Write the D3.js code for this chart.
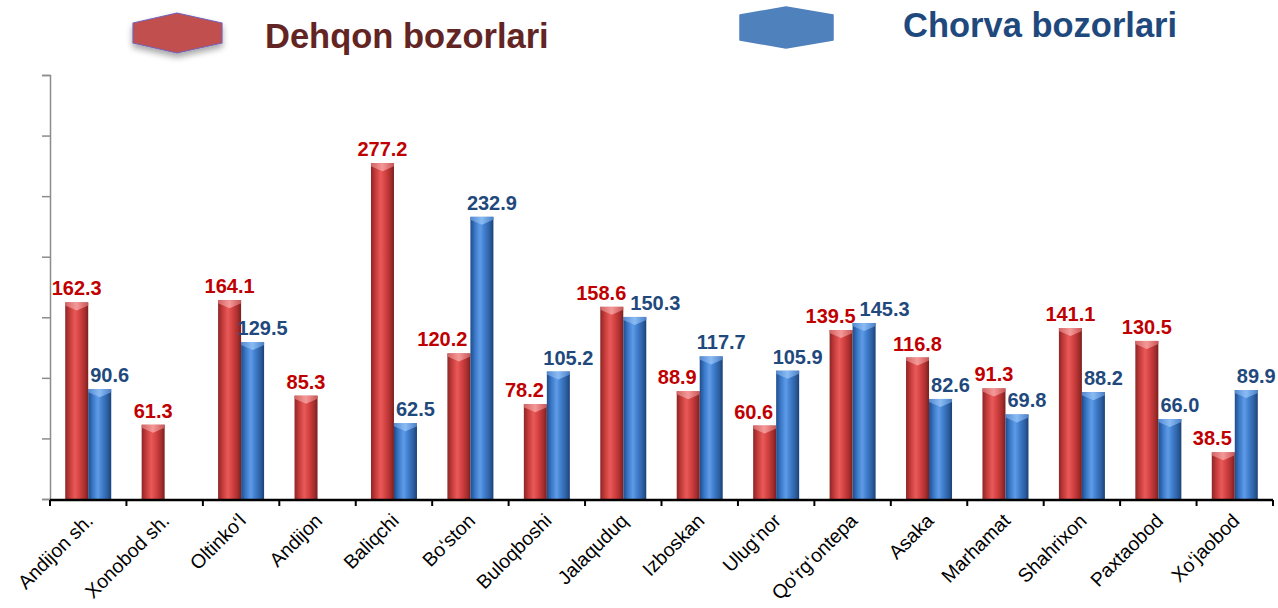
<!DOCTYPE html>
<html>
<head>
<meta charset="utf-8">
<script src="https://cdn.jsdelivr.net/npm/d3@7"></script>
<style>
  body { margin: 0; background: #fff; }
  svg { display: block; font-family: "Liberation Sans", Arial, sans-serif; }
</style>
</head>
<body>
<svg></svg>
<script>
// Data
var categories = ["Andijon sh.", "Xonobod sh.", "Oltinko\u2018l", "Andijon", "Baliqchi", "Bo\u2018ston",
  "Buloqboshi", "Jalaquduq", "Izboskan", "Ulug\u2018nor", "Qo\u2018rg\u2018ontepa", "Asaka",
  "Marhamat", "Shahrixon", "Paxtaobod", "Xo\u2018jaobod"];
var dehqon = [162.3, 61.3, 164.1, 85.3, 277.2, 120.2, 78.2, 158.6, 88.9, 60.6, 139.5, 116.8, 91.3, 141.1, 130.5, 38.5];
var chorva = [90.6, null, 129.5, null, 62.5, 232.9, 105.2, 150.3, 117.7, 105.9, 145.3, 82.6, 69.8, 88.2, 66.0, 89.9];
var seriesNames = ["Dehqon bozorlari", "Chorva bozorlari"];
var yTicks = [0, 50, 100, 150, 200, 250, 300, 350];

let width = 1278;
let height = 608;
let svg = d3.select("svg").attr("width", width).attr("height", height);

let x = d3.scaleBand().domain(categories).range([50, 1273]);
let inner = d3.scaleBand().domain(["d", "c"]).range([0, 46]);
let y = d3.scaleLinear().domain([0, 350]).range([499, 75]);
let off = (x.bandwidth() - 46) / 2;

// gradients for the glossy cylinders
let defs = svg.append("defs");
function grad(id, stops) {
  let g = defs.append("linearGradient").attr("id", id).attr("x1", 0).attr("x2", 1).attr("y1", 0).attr("y2", 0);
  stops.forEach(s => g.append("stop").attr("offset", s[0]).attr("stop-color", s[1]));
}
grad("gRed", [[0, "#8c2626"], [0.2, "#c73b3b"], [0.42, "#e85a5a"], [0.6, "#d84444"], [0.85, "#a82e2e"], [1, "#7a1f1f"]]);
grad("gBlue", [[0, "#1f4c88"], [0.2, "#3a78c8"], [0.42, "#5f9be6"], [0.6, "#417fcf"], [0.85, "#2c5e9f"], [1, "#1b4177"]]);
grad("gRedTop", [[0, "#d86a6a"], [0.5, "#f6a0a0"], [1, "#d05a5a"]]);
grad("gBlueTop", [[0, "#5a8fd6"], [0.5, "#8fc0f6"], [1, "#4f86cf"]]);
let sh = defs.append("filter").attr("id", "shadow").attr("x", "-20%").attr("y", "-20%").attr("width", "140%").attr("height", "160%");
sh.append("feDropShadow").attr("dx", 0).attr("dy", 4).attr("stdDeviation", 3).attr("flood-color", "#000").attr("flood-opacity", 0.35);

// legend
svg.append("path")
  .attr("d", "M133,23 L177,13 L222,23 L222,43 L177,53 L133,43 Z")
  .attr("fill", "#c0504d").attr("stroke", "#7463b5").attr("stroke-width", 1.2)
  .attr("stroke-linejoin", "round").attr("filter", "url(#shadow)");
svg.append("text").attr("x", 265).attr("y", 48).text(seriesNames[0])
  .attr("font-size", 34.5).attr("font-weight", "bold").attr("fill", "#632523");
svg.append("path")
  .attr("d", "M740,15 L786,7 L833,15 L833,40 L786,48 L740,40 Z")
  .attr("fill", "#4f81bd").attr("stroke", "#4f81bd").attr("stroke-width", 1.5)
  .attr("stroke-linejoin", "round");
svg.append("text").attr("x", 903).attr("y", 37).text(seriesNames[1])
  .attr("font-size", 34.5).attr("font-weight", "bold").attr("fill", "#1f497d");

// y axis (no labels)
let yAxis = svg.append("g").attr("transform", "translate(50,0)")
  .call(d3.axisLeft(y).tickValues(yTicks).tickSize(8).tickFormat(""));
yAxis.select(".domain").attr("stroke", "#8c8c8c").attr("stroke-width", 1.5);
yAxis.selectAll(".tick line").attr("stroke", "#8c8c8c").attr("stroke-width", 1.5);

// bars
let rows = categories.map((c, i) => ({ cat: c, d: dehqon[i], c: chorva[i] }));
let groups = svg.append("g").selectAll("g").data(rows).enter().append("g")
  .attr("transform", d => "translate(" + (x(d.cat) + off) + ",0)");

function drawBars(key, fill, top) {
  let b = groups.filter(d => d[key] != null);
  b.append("rect")
    .attr("x", inner(key)).attr("width", inner.bandwidth())
    .attr("y", d => y(d[key])).attr("height", d => y(0) - y(d[key]))
    .attr("fill", "url(#" + fill + ")");
  b.append("path")
    .attr("d", d => {
      let x0 = inner(key), w = inner.bandwidth(), t = y(d[key]);
      return "M" + x0 + "," + t + " L" + (x0 + w) + "," + t + " L" + (x0 + w) + "," + (t + 3) +
        " L" + (x0 + w / 2) + "," + (t + 8) + " L" + x0 + "," + (t + 3) + " Z";
    })
    .attr("fill", "url(#" + top + ")").attr("opacity", 0.9);
}
drawBars("d", "gRed", "gRedTop");
drawBars("c", "gBlue", "gBlueTop");

// x axis
let xAxis = svg.append("g").attr("transform", "translate(0,500)");
xAxis.append("line").attr("x1", 50).attr("x2", 1273).attr("stroke", "#000").attr("stroke-width", 2.5);
xAxis.selectAll("line.t").data(categories.concat(["end"])).enter().append("line")
  .attr("class", "t")
  .attr("x1", (d, i) => i < categories.length ? x(d) : x.range()[1])
  .attr("x2", (d, i) => i < categories.length ? x(d) : x.range()[1])
  .attr("y1", 0).attr("y2", 6).attr("stroke", "#000").attr("stroke-width", 2);
xAxis.selectAll("text").data(categories).enter().append("text")
  .attr("transform", d => "translate(" + (x(d) + x.bandwidth() / 2 + 6) + ",22) rotate(-45)")
  .attr("text-anchor", "end")
  .attr("font-size", 19.5).attr("fill", "#000")
  .text(d => d);

// value labels
let labels = svg.append("g").attr("font-weight", "bold").attr("font-size", 20);
rows.forEach(r => {
  let gx = x(r.cat) + off;
  let rc = gx + inner("d") + inner.bandwidth() / 2;
  let bc = gx + inner("c") + inner.bandwidth() / 2;
  let rt = labels.append("text").attr("fill", "#c00000").attr("text-anchor", "middle").text(r.d.toFixed(1));
  let ry = y(r.d) - 7, rw = rt.node().getComputedTextLength();
  let bt = null, by = 0, bw = 0, bx = bc + 10;
  if (r.c != null) {
    bt = labels.append("text").attr("fill", "#1f497d").attr("text-anchor", "middle").text(r.c.toFixed(1));
    by = y(r.c) - 7; bw = bt.node().getComputedTextLength();
    // keep the red label off the blue bar
    let blueLeft = gx + inner("c");
    if (ry - 15 > y(r.c) - 2 && rc + rw / 2 > blueLeft - 3) {
      rc = blueLeft - 3 - rw / 2;
    }
    // red and blue labels colliding
    if (Math.abs(ry - by) < 18) {
      let overlap = (rc + rw / 2 + 4) - (bx - bw / 2);
      if (overlap > 0) { rc -= overlap / 2; bx += overlap / 2; }
    }
    bt.attr("x", bx).attr("y", by);
  }
  rt.attr("x", rc).attr("y", ry);
});
</script>
</body>
</html>
